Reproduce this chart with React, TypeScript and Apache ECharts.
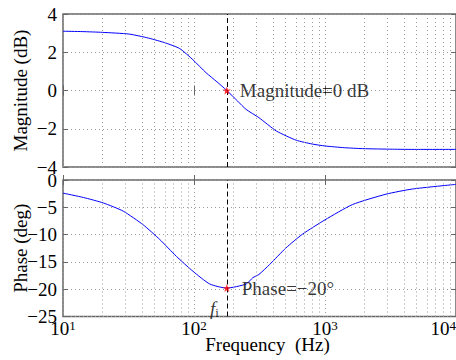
import React, { useEffect, useRef } from "react";
import * as echarts from "echarts";

// Magnitude response
const magFreq = [10, 14, 20, 32, 45, 61, 78, 98, 124, 150, 178, 215, 250, 313, 426, 603, 800, 1000, 1400, 1940, 3270, 5000, 10000];
const magDb = [3.1, 3.08, 3.04, 2.95, 2.74, 2.48, 2.19, 1.61, 0.92, 0.45, 0, -0.55, -0.99, -1.42, -2.12, -2.6, -2.8, -2.9, -2.99, -3.04, -3.07, -3.08, -3.08];

// Phase response
const phFreq = [10, 14.3, 20.3, 28.8, 40.9, 54.8, 73.5, 98, 132, 178, 250, 281, 313, 377, 503, 675, 1000, 1620, 2920, 4650, 10000];
const phDeg = [-2.4, -3.2, -4.2, -5.7, -8.2, -10.9, -14.0, -16.7, -19.05, -19.8, -19.05, -17.9, -17.3, -15.5, -12.45, -9.9, -7.3, -4.5, -2.6, -1.65, -0.8];

const fi = 178;
const fiMag = 0;
const fiPhase = -19.8;

const minorFreqs = [20, 30, 40, 50, 60, 70, 80, 90, 200, 300, 400, 500, 600, 700, 800, 900, 2000, 3000, 4000, 5000, 6000, 7000, 8000, 9000];

const magTicks = { min: -4, max: 4, interval: 2 };
const phTicks = { min: -25, max: 0, interval: 5 };

const FONT = "'Liberation Serif', 'Times New Roman', serif";
const GRID_COLOR = "#9a9a9a";
const FRAME = "#666";

export default function App() {
  const ref = useRef<HTMLDivElement>(null);
  useEffect(() => {
    document.body.style.margin = "0";
    const chart = echarts.init(ref.current!, undefined, { renderer: "svg" });
    const minus = (v: number) => String(v).replace("-", "\u2212");
    const gridLineStyle = { color: GRID_COLOR, type: [1, 3] as any, width: 1 };

    const xAxisFor = (gridIndex: number, position: string, showLabel: boolean) => ({
      type: "log",
      logBase: 10,
      min: 10,
      max: 10000,
      gridIndex,
      position,
      axisLine: { show: false },
      axisTick: { show: true, inside: true, length: 5, lineStyle: { color: FRAME } },
      splitLine: { show: position === "bottom", lineStyle: gridLineStyle },
      axisLabel: {
        show: showLabel,
        margin: 4,
        alignMaxLabel: "right",
        color: "#000",
        fontFamily: FONT,
        formatter: (v: number) => "{b|10}{s|" + Math.round(Math.log10(v)) + "}",
        rich: {
          b: { fontSize: 19, lineHeight: 16, fontFamily: FONT, color: "#000" },
          s: { fontSize: 13, lineHeight: 12, fontFamily: FONT, color: "#000", padding: [0, 0, 7, 0] },
        },
      },
      name: showLabel ? "Frequency\u00a0\u00a0(Hz)" : "",
      nameLocation: "middle",
      nameGap: 21,
      nameMoveOverlap: false,
      nameTextStyle: { fontSize: 19, lineHeight: 14, fontFamily: FONT, color: "#000", padding: [0, 0, 0, 16] },
    });

    const yAxisFor = (gridIndex: number, t: any, name: string, position: string, offsetY: number) => ({
      type: "value",
      gridIndex,
      position,
      min: t.min,
      max: t.max,
      interval: t.interval,
      axisLine: { show: false },
      axisTick: { show: true, inside: true, length: 5, lineStyle: { color: FRAME } },
      splitLine: { show: position === "left", lineStyle: gridLineStyle },
      axisLabel: {
        show: position === "left",
        margin: 6,
        fontSize: 19,
        lineHeight: 14,
        fontFamily: FONT,
        color: "#000",
        formatter: minus,
        padding: [offsetY, 0, 0, 0],
      },
      name: position === "left" ? name : "",
      nameLocation: "middle",
      nameGap: 33,
      nameMoveOverlap: false,
      nameTextStyle: { fontSize: 19, fontFamily: FONT, color: "#000" },
    });

    const markLinesFor = () => ({
      silent: true,
      symbol: "none",
      animation: false,
      label: { show: false },
      data: [
        ...minorFreqs.map((v) => ({ xAxis: v, lineStyle: gridLineStyle })),
        { xAxis: fi, lineStyle: { color: "#000", type: [5, 3], width: 1 } },
      ],
    });

    const star = "path://M0,-5 L1.3,-1.6 4.8,-1.5 2,0.6 2.9,4 0,2 -2.9,4 -2,0.6 -4.8,-1.5 -1.3,-1.6 Z";

    chart.setOption({
      animation: false,
      grid: [
        { left: 63, right: 0, top: 14, height: 153, show: true, borderColor: FRAME, borderWidth: 1.5, backgroundColor: "transparent", containLabel: false, outerBoundsMode: "none" },
        { left: 63, right: 0, top: 180, height: 136.5, show: true, borderColor: FRAME, borderWidth: 1.5, backgroundColor: "transparent", containLabel: false, outerBoundsMode: "none" },
      ],
      xAxis: [
        xAxisFor(0, "bottom", false),
        xAxisFor(0, "top", false),
        xAxisFor(1, "bottom", true),
        xAxisFor(1, "top", false),
      ],
      yAxis: [
        yAxisFor(0, magTicks, "Magnitude (dB)", "left", 0),
        yAxisFor(0, magTicks, "", "right", 0),
        yAxisFor(1, phTicks, "Phase (deg)", "left", 4),
        yAxisFor(1, phTicks, "", "right", 0),
      ],
      series: [
        {
          type: "line",
          xAxisIndex: 0,
          yAxisIndex: 0,
          data: magFreq.map((f, i) => [f, magDb[i]]),
          showSymbol: false,
          smooth: 0.2,
          lineStyle: { color: "#0000ff", width: 1 },
          markLine: markLinesFor(),
          z: 3,
        },
        {
          type: "line",
          xAxisIndex: 2,
          yAxisIndex: 2,
          data: phFreq.map((f, i) => [f, phDeg[i]]),
          showSymbol: false,
          smooth: 0.2,
          lineStyle: { color: "#0000ff", width: 1 },
          markLine: markLinesFor(),
          z: 3,
        },
        {
          type: "scatter",
          xAxisIndex: 0,
          yAxisIndex: 0,
          data: [[fi, fiMag]],
          symbol: star,
          symbolSize: 8,
          itemStyle: { color: "#ff0000" },
          label: {
            show: true,
            position: "right",
            distance: 9,
            formatter: "Magnitude=0 dB",
            fontSize: 19,
            fontFamily: FONT,
            color: "#000",
          },
          z: 5,
        },
        {
          type: "scatter",
          xAxisIndex: 2,
          yAxisIndex: 2,
          data: [[fi, fiPhase]],
          symbol: star,
          symbolSize: 8,
          itemStyle: { color: "#ff0000" },
          label: {
            show: true,
            position: "right",
            distance: 11,
            formatter: "Phase=\u221220\u00b0",
            fontSize: 19,
            fontFamily: FONT,
            color: "#000",
          },
          z: 5,
        },
        {
          type: "scatter",
          xAxisIndex: 2,
          yAxisIndex: 2,
          data: [[fi, fiPhase]],
          symbolSize: 0,
          silent: true,
          label: {
            show: true,
            position: "left",
            distance: 8,
            offset: [0, 20],
            formatter: "{f|f}{i|i}",
            rich: {
              f: { fontSize: 19, fontFamily: FONT, fontStyle: "italic", color: "#000" },
              i: { fontSize: 13, fontFamily: FONT, color: "#000", padding: [8, 0, 0, 0] },
            },
          },
          z: 5,
        },
      ],
    });
    return () => chart.dispose();
  }, []);
  return <div ref={ref} style={{ width: 456, height: 360 }} />;
}
